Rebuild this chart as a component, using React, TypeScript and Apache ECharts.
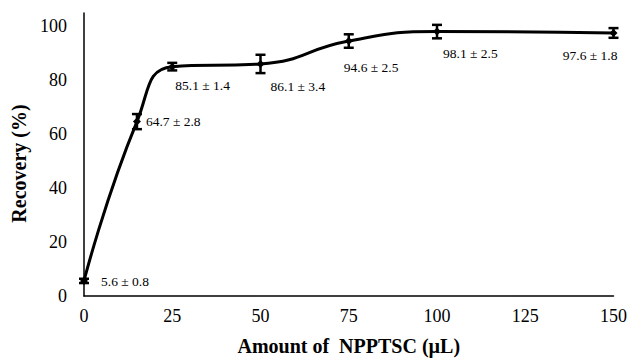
import React, { useEffect, useRef } from "react";
import * as echarts from "echarts";

const amounts = [0, 15, 25, 50, 75, 100, 150];
const recovery = [5.6, 64.7, 85.1, 86.1, 94.6, 98.1, 97.6];
const errors = [0.8, 2.8, 1.4, 3.4, 2.5, 2.5, 1.8];
const labelOffsets: [number, number, string][] = [
  [17, 1, "left"],
  [9, 0, "left"],
  [3, 19, "left"],
  [10, 23, "left"],
  [-5, 26, "left"],
  [6, 22, "left"],
  [4, 23, "right"],
];

const FONT = "Liberation Serif";

export default function App() {
  const ref = useRef<HTMLDivElement>(null);
  useEffect(() => {
    if (!ref.current) return;
    const chart = echarts.init(ref.current, null, { renderer: "svg" });
    const lineData = amounts.map((a, i) => [a, recovery[i]]);
    const errData = amounts.map((a, i) => [a, recovery[i], errors[i], i]);
    chart.setOption({
      animation: false,
      backgroundColor: "#fff",
      textStyle: { fontFamily: FONT },
      grid: { left: 84, right: 16, top: 13, bottom: 59 },
      xAxis: {
        type: "value",
        min: 0,
        max: 150,
        interval: 25,
        name: "Amount of  NPPTSC (\u00b5L)",
        nameLocation: "middle",
        nameGap: 40,
        nameTextStyle: { fontFamily: FONT, fontWeight: "bold", fontSize: 20, color: "#000" },
        axisLine: { lineStyle: { color: "#000", width: 1.5 } },
        axisTick: { show: false },
        splitLine: { show: false },
        axisLabel: { fontFamily: FONT, fontSize: 18, color: "#000", margin: 11 },
      },
      yAxis: {
        type: "value",
        min: 0,
        max: 105,
        interval: 20,
        name: "Recovery (%)",
        nameLocation: "middle",
        nameGap: 53,
        nameRotate: 90,
        nameTextStyle: { fontFamily: FONT, fontWeight: "bold", fontSize: 20, color: "#000", padding: [0, 18, 0, 0] },
        axisLine: { show: true, lineStyle: { color: "#000", width: 1.5 } },
        axisTick: { show: false },
        splitLine: { show: false },
        axisLabel: { fontFamily: FONT, fontSize: 18, color: "#000", margin: 17, showMaxLabel: false },
      },
      series: [
        {
          type: "line",
          data: lineData,
          smooth: 0.5,
          symbol: "diamond",
          symbolSize: 8,
          lineStyle: { color: "#000", width: 3 },
          itemStyle: { color: "#000" },
          z: 2,
        },
        {
          type: "custom",
          data: errData,
          z: 3,
          renderItem: (params: any, api: any) => {
            const x = api.value(0);
            const y = api.value(1);
            const e = api.value(2);
            const idx = api.value(3);
            const p = api.coord([x, y]);
            const hi = api.coord([x, y + e]);
            const lo = api.coord([x, y - e]);
            const cw = 5;
            const st = { stroke: "#000", lineWidth: 2.5 };
            const off = labelOffsets[idx];
            return {
              type: "group",
              children: [
                { type: "line", shape: { x1: p[0], y1: hi[1], x2: p[0], y2: lo[1] }, style: st },
                { type: "line", shape: { x1: p[0] - cw, y1: hi[1], x2: p[0] + cw, y2: hi[1] }, style: st },
                { type: "line", shape: { x1: p[0] - cw, y1: lo[1], x2: p[0] + cw, y2: lo[1] }, style: st },
                {
                  type: "text",
                  x: p[0] + off[0],
                  y: p[1] + off[1],
                  style: {
                    text: `${recovery[idx]} \u00b1 ${errors[idx]}`,
                    fontFamily: FONT,
                    fontSize: 13.5,
                    fill: "#000",
                    align: off[2],
                    verticalAlign: "middle",
                  },
                },
              ],
            };
          },
        },
      ],
    });
    return () => chart.dispose();
  }, []);
  return <div ref={ref} style={{ width: 630, height: 361, position: "absolute", left: 0, top: 0 }} />;
}
